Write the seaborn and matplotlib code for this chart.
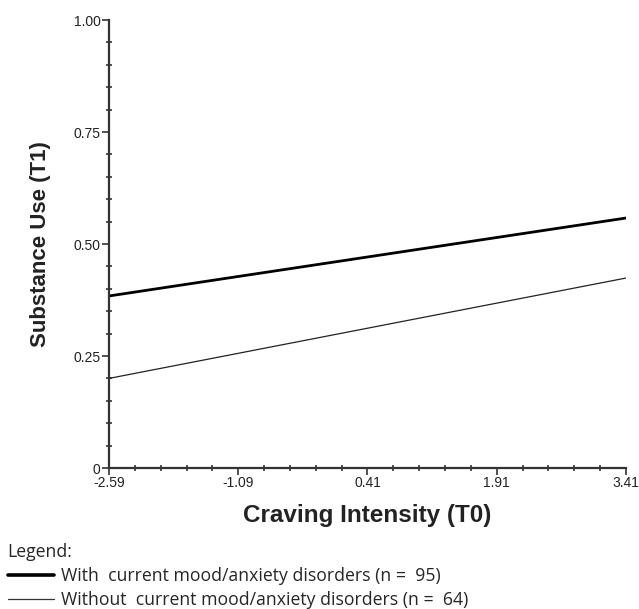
import numpy as np
import pandas as pd
import matplotlib
matplotlib.use("Agg")
import matplotlib.pyplot as plt
import seaborn as sns
from matplotlib.ticker import MultipleLocator, FixedLocator
from matplotlib.lines import Line2D

# Data
x_vals = [-2.59, 3.41]
with_vals = [0.384, 0.558]
without_vals = [0.200, 0.424]
groups = ["With  current mood/anxiety disorders (n =  95)",
          "Without  current mood/anxiety disorders (n =  64)"]
x_ticks = [-2.59, -1.09, 0.41, 1.91, 3.41]
y_ticks = [0, 0.25, 0.50, 0.75, 1.00]
y_ticklabels = ["0", "0.25", "0.50", "0.75", "1.00"]

df = pd.DataFrame({
    "x": x_vals * 2,
    "y": with_vals + without_vals,
    "group": [groups[0]] * 2 + [groups[1]] * 2,
})

sns.set_style("ticks")
plt.rcParams["font.family"] = ["Liberation Sans", "DejaVu Sans"]

fig = plt.figure(figsize=(6.39, 6.09), dpi=100)
ax = fig.add_axes([109/639, 1-468/609, (626-109)/639, (468-20)/609])

sns.lineplot(data=df, x="x", y="y", hue="group", size="group",
             palette={groups[0]: "black", groups[1]: "#222222"},
             sizes={groups[0]: 2.0, groups[1]: 0.9},
             legend=False, ax=ax)

ax.set_xlim(-2.59, 3.41)
ax.set_ylim(0, 1.0)
ax.set_xticks(x_ticks)
ax.set_xticklabels([f"{v:.2f}" for v in x_ticks])
ax.xaxis.set_minor_locator(FixedLocator(np.arange(-2.59, 3.42, 0.3)))
ax.set_yticks(y_ticks)
ax.set_yticklabels(y_ticklabels)
ax.yaxis.set_minor_locator(MultipleLocator(0.05))

for s in ["top", "right"]:
    ax.spines[s].set_visible(False)
for s in ["left", "bottom"]:
    ax.spines[s].set_linewidth(1.6)
    ax.spines[s].set_color("#333333")

ax.tick_params(which="major", direction="out", length=5, width=1.2,
               color="#333333", labelsize=10, pad=1, labelcolor="#222222")
ax.tick_params(which="minor", direction="inout", length=5, width=1.2, color="#333333")

ax.set_xlabel("Craving Intensity (T0)", fontsize=17.5, fontweight="bold",
              color="#222222", labelpad=10)
ax.set_ylabel("Substance Use (T1)", fontsize=16, fontweight="bold",
              color="#222222", labelpad=16)

# Legend
handles = [Line2D([0], [0], color="black", lw=2.6),
           Line2D([0], [0], color="#333333", lw=0.9)]
fp = {"family": ["Open Sans", "DejaVu Sans"], "size": 12.7}
leg = fig.legend(handles, groups, title="Legend:", loc="lower left",
                 bbox_to_anchor=(0.012, 0.0), frameon=False,
                 prop=fp, title_fontproperties=fp,
                 handlelength=2.6, handletextpad=0.45, labelspacing=0.35,
                 borderaxespad=0.0, borderpad=0.0)
leg._legend_box.align = "left"
leg._legend_box.sep = 4

fig.savefig("out.png", dpi=100)
